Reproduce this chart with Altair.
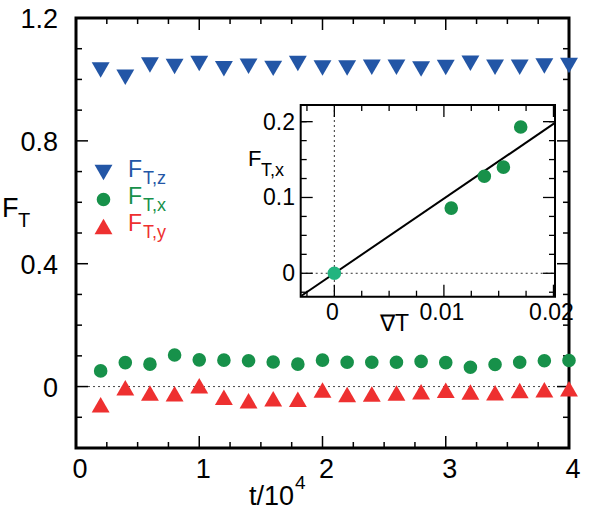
import altair as alt
import pandas as pd

# ---------------- data ----------------
t = [0.2, 0.4, 0.6, 0.8, 1.0, 1.2, 1.4, 1.6, 1.8, 2.0,
     2.2, 2.4, 2.6, 2.8, 3.0, 3.2, 3.4, 3.6, 3.8, 4.0]
ft_z = [1.031, 1.007, 1.047, 1.042, 1.052, 1.035, 1.043, 1.036, 1.052, 1.037,
        1.037, 1.040, 1.040, 1.034, 1.039, 1.053, 1.040, 1.040, 1.044, 1.045]
ft_x = [0.051, 0.078, 0.073, 0.103, 0.087, 0.086, 0.084, 0.080, 0.073, 0.086,
        0.079, 0.079, 0.079, 0.082, 0.078, 0.063, 0.072, 0.079, 0.084, 0.085]
ft_y = [-0.059, -0.004, -0.021, -0.023, 0.003, -0.035, -0.046, -0.040, -0.041, -0.011,
        -0.026, -0.024, -0.021, -0.017, -0.012, -0.018, -0.020, -0.013, -0.010, -0.007]

grad_T = [0.01067, 0.01369, 0.01543, 0.01701]
ft_x_grad = [0.086, 0.128, 0.140, 0.193]
origin_grad = [0.0]
origin_ft = [0.0]
fit_grad = [-0.0030, 0.0201]
fit_ft = [-0.0296, 0.198]

main_x_major = [0, 1, 2, 3, 4]
main_x_labels = ["0", "1", "2", "3", "4"]
main_x_minor = [0.25, 0.5, 0.75, 1.25, 1.5, 1.75, 2.25, 2.5, 2.75, 3.25, 3.5, 3.75]
main_y_major = [0.0, 0.4, 0.8, 1.2]
main_y_labels = ["0", "0.4", "0.8", "1.2"]
main_y_minor = [-0.1, 0.1, 0.2, 0.3, 0.5, 0.6, 0.7, 0.9, 1.0, 1.1]

inset_x_major = [0.0, 0.01, 0.02]
inset_x_labels = ["0", "0.01", "0.02"]
inset_x_minor = [-0.0025, 0.0025, 0.005, 0.0075, 0.0125, 0.015, 0.0175]
inset_y_major = [0.0, 0.1, 0.2]
inset_y_labels = ["0", "0.1", "0.2"]
inset_y_minor = [-0.025, 0.025, 0.05, 0.075, 0.125, 0.15, 0.175, 0.2]

legend_subs = ["T,z", "T,x", "T,y"]

# ---------------- style ----------------
W, H = 493, 430
FONT = "Liberation Sans"
BLUE = "#2356a6"
GREEN = "#17914a"
RED = "#ee3030"
TEAL = "#22b47f"

XS = alt.Scale(domain=[0, 4], nice=False, zero=False)
YS = alt.Scale(domain=[-0.2, 1.2], nice=False, zero=False)
IX0, IX1, IY0, IY1 = 224.7, 479.0, 278.7, 87.0
IXS = alt.Scale(domain=[-0.00307, 0.02014], range=[IX0, IX1], nice=False, zero=False)
IYS = alt.Scale(domain=[-0.0309, 0.222], range=[IY0, IY1], nice=False, zero=False)


def mx(f):
    return alt.X(f"{f}:Q", scale=XS, axis=None)


def my(f):
    return alt.Y(f"{f}:Q", scale=YS, axis=None)


def ix(f):
    return alt.X(f"{f}:Q", scale=IXS, axis=None)


def iy(f):
    return alt.Y(f"{f}:Q", scale=IYS, axis=None)


one = pd.DataFrame({"v": [0.0]})
main_df = pd.DataFrame({"t": t, "z": ft_z, "x": ft_x, "y": ft_y})

# ---------------- main panel ----------------
m = []
m.append(alt.Chart(one).mark_rule(color="#444", strokeDash=[2, 3], strokeWidth=1).encode(
    y=my("v"), x=alt.value(12), x2=alt.value(W)))
for vals, ln in [(main_y_major, 12), (main_y_minor, 6)]:
    d = pd.DataFrame({"v": vals})
    m.append(alt.Chart(d).mark_rule(color="black", strokeWidth=1.5).encode(
        y=my("v"), x=alt.value(0), x2=alt.value(ln)))
    m.append(alt.Chart(d).mark_rule(color="black", strokeWidth=1.5).encode(
        y=my("v"), x=alt.value(W), x2=alt.value(W - ln)))
for vals, ln in [(main_x_major, 12), (main_x_minor, 6)]:
    d = pd.DataFrame({"v": vals})
    m.append(alt.Chart(d).mark_rule(color="black", strokeWidth=1.5).encode(
        x=mx("v"), y=alt.value(H), y2=alt.value(H - ln)))
    m.append(alt.Chart(d).mark_rule(color="black", strokeWidth=1.5).encode(
        x=mx("v"), y=alt.value(0), y2=alt.value(ln)))
m.append(alt.Chart(pd.DataFrame({"v": main_x_major, "l": main_x_labels})).mark_text(
    font=FONT, fontSize=27, align="center", baseline="alphabetic", dx=4).encode(
    x=mx("v"), y=alt.value(H + 30), text="l:N"))
m.append(alt.Chart(pd.DataFrame({"v": main_y_major, "l": main_y_labels})).mark_text(
    font=FONT, fontSize=27, align="right", baseline="alphabetic", dy=10).encode(
    y=my("v"), x=alt.value(-18), text="l:N"))
m.append(alt.Chart(one).mark_text(font=FONT, fontSize=27, align="left", baseline="alphabetic",
                                  text="t/10").encode(x=alt.value(173), y=alt.value(487)))
m.append(alt.Chart(one).mark_text(font=FONT, fontSize=19, align="left", baseline="alphabetic",
                                  text="4").encode(x=alt.value(219), y=alt.value(471)))
m.append(alt.Chart(one).mark_text(font=FONT, fontSize=27, align="left", baseline="alphabetic",
                                  text="F").encode(x=alt.value(-74), y=alt.value(199)))
m.append(alt.Chart(one).mark_text(font=FONT, fontSize=20, align="left", baseline="alphabetic",
                                  text="T").encode(x=alt.value(-58), y=alt.value(209)))
m.append(alt.Chart(main_df).mark_point(shape="triangle-down", filled=True, opacity=1, size=320,
                                       color=BLUE).encode(x=mx("t"), y=my("z")))
m.append(alt.Chart(main_df).mark_point(shape="circle", filled=True, opacity=1, size=185,
                                       color=GREEN).encode(x=mx("t"), y=my("x")))
m.append(alt.Chart(main_df).mark_point(shape="triangle-up", filled=True, opacity=1, size=320,
                                       color=RED).encode(x=mx("t"), y=my("y")))
for i, (shape, col, sz) in enumerate([("triangle-down", BLUE, 320), ("circle", GREEN, 185),
                                      ("triangle-up", RED, 320)]):
    yc = 154.5 + i * 27
    m.append(alt.Chart(one).mark_point(shape=shape, filled=True, opacity=1, size=sz, color=col).encode(
        x=alt.value(27.5), y=alt.value(yc)))
    m.append(alt.Chart(one).mark_text(font=FONT, fontSize=23, align="left", baseline="alphabetic",
                                      color=col, text="F").encode(x=alt.value(52), y=alt.value(yc + 4)))
    m.append(alt.Chart(one).mark_text(font=FONT, fontSize=18, align="left", baseline="alphabetic",
                                      color=col, text=legend_subs[i]).encode(
        x=alt.value(67), y=alt.value(yc + 11)))

main_group = alt.layer(*m)

# ---------------- inset ----------------
ins = []
ins.append(alt.Chart(one).mark_rect(fill="white", stroke="black", strokeWidth=2).encode(
    x=alt.value(IX0), x2=alt.value(IX1), y=alt.value(IY1), y2=alt.value(IY0)))
ins.append(alt.Chart(one).mark_rule(color="#333", strokeDash=[2, 3], strokeWidth=1).encode(
    y=iy("v"), x=alt.value(IX0), x2=alt.value(IX1)))
ins.append(alt.Chart(one).mark_rule(color="#333", strokeDash=[2, 3], strokeWidth=1).encode(
    x=ix("v"), y=alt.value(IY1), y2=alt.value(IY0)))
for vals, ln in [(inset_y_major, 12), (inset_y_minor, 6)]:
    d = pd.DataFrame({"v": vals})
    ins.append(alt.Chart(d).mark_rule(color="black", strokeWidth=1.3).encode(
        y=iy("v"), x=alt.value(IX0), x2=alt.value(IX0 + ln)))
    ins.append(alt.Chart(d).mark_rule(color="black", strokeWidth=1.3).encode(
        y=iy("v"), x=alt.value(IX1), x2=alt.value(IX1 - ln)))
for vals, ln in [(inset_x_major, 12), (inset_x_minor, 6)]:
    d = pd.DataFrame({"v": vals})
    ins.append(alt.Chart(d).mark_rule(color="black", strokeWidth=1.3).encode(
        x=ix("v"), y=alt.value(IY0), y2=alt.value(IY0 - ln)))
    ins.append(alt.Chart(d).mark_rule(color="black", strokeWidth=1.3).encode(
        x=ix("v"), y=alt.value(IY1), y2=alt.value(IY1 + ln)))
ins.append(alt.Chart(pd.DataFrame({"v": inset_x_major, "l": inset_x_labels})).mark_text(
    font=FONT, fontSize=23, align="center", baseline="alphabetic", dx=-2).encode(
    x=ix("v"), y=alt.value(302), text="l:N"))
ins.append(alt.Chart(pd.DataFrame({"v": inset_y_major, "l": inset_y_labels})).mark_text(
    font=FONT, fontSize=23, align="right", baseline="alphabetic", dy=8).encode(
    y=iy("v"), x=alt.value(219), text="l:N"))
ins.append(alt.Chart(one).mark_text(font=FONT, fontSize=22, align="left", baseline="alphabetic",
                                    text="F").encode(x=alt.value(172), y=alt.value(148)))
ins.append(alt.Chart(one).mark_text(font=FONT, fontSize=18, align="left", baseline="alphabetic",
                                    text="T,x").encode(x=alt.value(185), y=alt.value(158)))
ins.append(alt.Chart(one).mark_text(font=FONT, fontSize=23, align="left", baseline="alphabetic",
                                    text="∇T").encode(x=alt.value(304), y=alt.value(313)))
ins.append(alt.Chart(pd.DataFrame({"g": fit_grad, "f": fit_ft})).mark_line(
    color="black", strokeWidth=2).encode(x=ix("g"), y=iy("f")))
ins.append(alt.Chart(pd.DataFrame({"g": grad_T, "f": ft_x_grad})).mark_point(
    shape="circle", filled=True, opacity=1, size=185, color=GREEN).encode(x=ix("g"), y=iy("f")))
ins.append(alt.Chart(pd.DataFrame({"g": origin_grad, "f": origin_ft})).mark_point(
    shape="circle", filled=True, opacity=1, size=185, color=TEAL).encode(x=ix("g"), y=iy("f")))

inset_group = alt.layer(*ins)

chart = alt.layer(main_group, inset_group).resolve_scale(
    x="independent", y="independent"
).properties(
    width=W, height=H,
    padding={"left": 76, "top": 18, "right": 29, "bottom": 71},
    autosize=alt.AutoSizeParams(type="none"),
    background="white",
).configure_view(stroke="black", strokeWidth=3)

chart.save("out.html", embed_options={"renderer": "svg", "actions": False})
